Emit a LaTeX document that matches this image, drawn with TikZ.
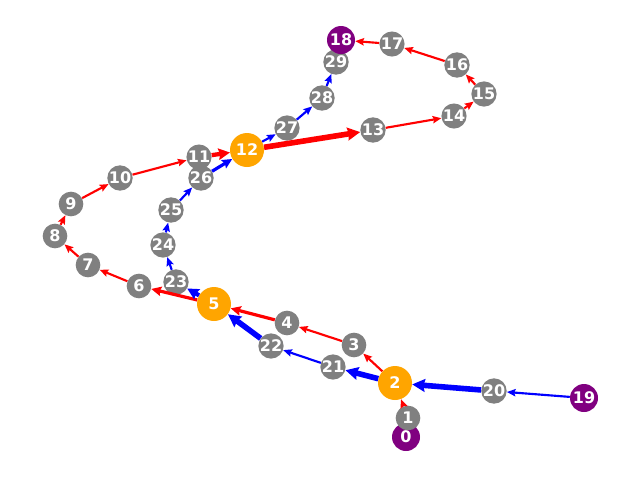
\documentclass[tikz,border=0pt]{standalone}
\usepackage{fontspec}
\setmainfont{DejaVu Sans}
\usetikzlibrary{arrows.meta}
\definecolor{mporange}{HTML}{FFA500}
\definecolor{mppurple}{HTML}{800080}
\definecolor{mpgray}{HTML}{808080}
\begin{document}
\begin{tikzpicture}[x=0.75pt,y=-0.75pt,
  base/.style={circle,inner sep=0pt,text=white,font=\bfseries\fontsize{12}{12}\selectfont},
  gn/.style={base,fill=mpgray,minimum size=18.5pt},
  on/.style={base,fill=mporange,minimum size=25.5pt},
  pn/.style={base,fill=mppurple,minimum size=21pt},
  re/.style={draw=red,line width=1.6pt,-{Stealth[length=6.5pt,width=5.5pt,inset=1pt]}},
  be/.style={draw=blue,line width=1.6pt,-{Stealth[length=6.5pt,width=5.5pt,inset=1pt]}},
  w2/.style={line width=2.4pt,-{Stealth[length=7.5pt,width=7pt,inset=1pt]}},
  w3/.style={line width=3.2pt,-{Stealth[length=8.5pt,width=8.5pt,inset=1pt]}},
  w4/.style={line width=4.2pt,-{Stealth[length=9.5pt,width=9.5pt,inset=1pt]}},
]
\useasboundingbox (0,0) rectangle (640,480);
\node[pn] (n0) at (406,437) {0};
\node[gn] (n1) at (408,418) {1};
\node[on] (n2) at (395,383) {2};
\node[gn] (n3) at (354,345) {3};
\node[gn] (n4) at (287,323) {4};
\node[on] (n5) at (214,304) {5};
\node[gn] (n6) at (139,286) {6};
\node[gn] (n7) at (88,265) {7};
\node[gn] (n8) at (55,236) {8};
\node[gn] (n9) at (71,204) {9};
\node[gn] (n10) at (120,178) {10};
\node[gn] (n13) at (373,130) {13};
\node[gn] (n14) at (454,116) {14};
\node[gn] (n15) at (484,94) {15};
\node[gn] (n16) at (457,65) {16};
\node[gn] (n17) at (392,44) {17};
\node[pn] (n19) at (584,398) {19};
\node[gn] (n20) at (494,391) {20};
\node[gn] (n21) at (333,367) {21};
\node[gn] (n22) at (271,346) {22};
\node[gn] (n23) at (176,282) {23};
\node[gn] (n24) at (163,245) {24};
\node[gn] (n25) at (171,210) {25};
\node[gn] (n26) at (201,178) {26};
\node[gn] (n11) at (199,157) {11};
\node[on] (n12) at (247,150) {12};
\node[gn] (n27) at (287,128) {27};
\node[gn] (n28) at (322,98) {28};
\node[gn] (n29) at (336,62) {29};
\node[pn] (n18) at (341,40) {18};
% red path
\draw[re] (n1) -- (n2);
\draw[re] (n2) -- (n3);
\draw[re] (n3) -- (n4);
\draw[re,w2] (n4) -- (n5);
\draw[re,w2] (n5) -- (n6);
\draw[re] (n6) -- (n7);
\draw[re] (n7) -- (n8);
\draw[re] (n8) -- (n9);
\draw[re] (n9) -- (n10);
\draw[re] (n10) -- (n11);
\draw[re,w3] (n11) -- (n12);
\draw[re,w4] (n12) -- (n13);
\draw[re] (n13) -- (n14);
\draw[re] (n14) -- (n15);
\draw[re] (n15) -- (n16);
\draw[re] (n16) -- (n17);
\draw[re] (n17) -- (n18);
% blue path
\draw[be] (n19) -- (n20);
\draw[be,w4] (n20) -- (n2);
\draw[be,w4] (n2) -- (n21);
\draw[be] (n21) -- (n22);
\draw[be,w4] (n22) -- (n5);
\draw[be,w3] (n5) -- (n23);
\draw[be] (n23) -- (n24);
\draw[be] (n24) -- (n25);
\draw[be] (n25) -- (n26);
\draw[be,w2] (n26) -- (n12);
\draw[be] (n12) -- (n27);
\draw[be] (n27) -- (n28);
\draw[be] (n28) -- (n29);
\end{tikzpicture}
\end{document}
